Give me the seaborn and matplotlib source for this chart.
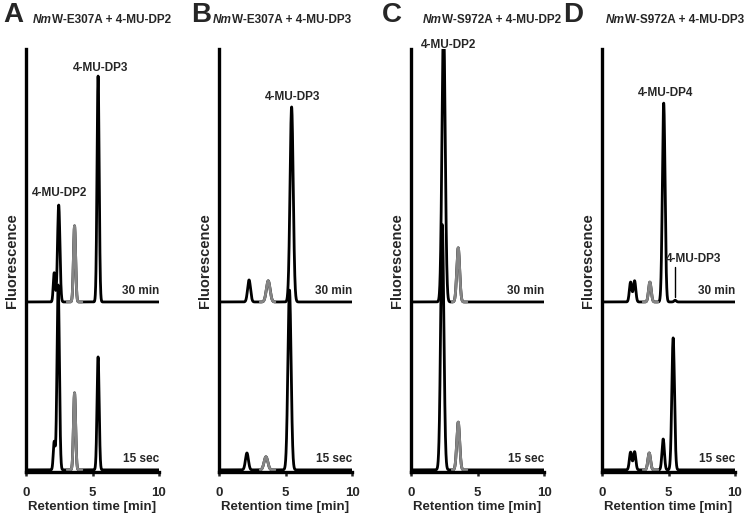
"""
HPLC traces of NmW mutants incubated with 4-MU-DPn acceptors (4 panels).
Each trace is rebuilt from its peak table (retention time, height, width).
"""
import matplotlib
matplotlib.use("Agg")
import matplotlib.pyplot as plt
import numpy as np
import pandas as pd
import seaborn as sns

# ---- data (retention time in min, height in a.u.) ----
PANEL_LETTERS = ["A", "B", "C", "D"]
PANEL_ENZYMES = ["W-E307A", "W-E307A", "W-S972A", "W-S972A"]
PANEL_ACCEPTORS = ["4-MU-DP2", "4-MU-DP3", "4-MU-DP2", "4-MU-DP3"]
TIMEPOINTS = ["15 sec", "30 min"]
TRACE_OFFSET = [0.5, 40.2]  # vertical offset of the 15 sec / 30 min trace

A_15SEC_RT = [2.12, 2.42, 3.65, 5.42]
A_15SEC_HEIGHT = [6.6, 43.7, 18.2, 26.7]
A_15SEC_WIDTH = [0.07, 0.09, 0.08, 0.08]
A_30MIN_RT = [2.12, 2.46, 3.65, 5.42]
A_30MIN_HEIGHT = [6.9, 22.9, 18.0, 53.4]
A_30MIN_WIDTH = [0.07, 0.09, 0.08, 0.08]

B_15SEC_RT = [2.10, 3.53, 5.30]
B_15SEC_HEIGHT = [4.0, 3.1, 42.5]
B_15SEC_WIDTH = [0.11, 0.14, 0.12]
B_30MIN_RT = [2.26, 3.70, 5.46]
B_30MIN_HEIGHT = [5.2, 5.0, 46.1]
B_30MIN_WIDTH = [0.11, 0.14, 0.12]

C_15SEC_RT = [2.35, 3.55]
C_15SEC_HEIGHT = [58.0, 11.3]
C_15SEC_WIDTH = [0.12, 0.11]
C_30MIN_RT = [2.45, 3.55]
C_30MIN_HEIGHT = [66.0, 12.8]
C_30MIN_WIDTH = [0.12, 0.11]

D_15SEC_RT = [2.15, 2.45, 3.55, 4.60, 5.35]
D_15SEC_HEIGHT = [4.2, 4.3, 4.0, 7.3, 31.2]
D_15SEC_WIDTH = [0.09, 0.09, 0.10, 0.09, 0.10]
D_30MIN_RT = [2.15, 2.45, 3.60, 4.64, 5.50]
D_30MIN_HEIGHT = [4.7, 5.0, 4.7, 47.0, 0.4]
D_30MIN_WIDTH = [0.09, 0.09, 0.10, 0.10, 0.08]

# peak labels, in data units of each panel
LABEL_TEXT = [["4-MU-DP2", "4-MU-DP3"], ["4-MU-DP3"], ["4-MU-DP2"],
              ["4-MU-DP4", "4-MU-DP3"]]
LABEL_X = [[2.55, 5.6], [5.5], [2.8], [4.8, 6.85]]
LABEL_Y = [[66.0, 95.5], [88.7], [101.0], [89.6, 50.4]]

PEAKS = {
    ("A", "15 sec"): (A_15SEC_RT, A_15SEC_HEIGHT, A_15SEC_WIDTH),
    ("A", "30 min"): (A_30MIN_RT, A_30MIN_HEIGHT, A_30MIN_WIDTH),
    ("B", "15 sec"): (B_15SEC_RT, B_15SEC_HEIGHT, B_15SEC_WIDTH),
    ("B", "30 min"): (B_30MIN_RT, B_30MIN_HEIGHT, B_30MIN_WIDTH),
    ("C", "15 sec"): (C_15SEC_RT, C_15SEC_HEIGHT, C_15SEC_WIDTH),
    ("C", "30 min"): (C_30MIN_RT, C_30MIN_HEIGHT, C_30MIN_WIDTH),
    ("D", "15 sec"): (D_15SEC_RT, D_15SEC_HEIGHT, D_15SEC_WIDTH),
    ("D", "30 min"): (D_30MIN_RT, D_30MIN_HEIGHT, D_30MIN_WIDTH),
}

GRAY_RANGE = (3.1, 4.2)  # part of each trace drawn in grey (internal standard)


def trace_frame(rt, height, width, offset):
    t = np.linspace(0, 10, 2001)
    y = np.full_like(t, offset)
    for r, h, w in zip(rt, height, width):
        y += h * np.exp(-0.5 * ((t - r) / w) ** 2)
    return pd.DataFrame({"time": t, "signal": y})


sns.set_style("white")
plt.rcParams["font.family"] = ["Liberation Sans", "DejaVu Sans"]
plt.rcParams["font.weight"] = "bold"

fig = plt.figure(figsize=(7.45, 5.13), dpi=100)
lefts_px = [26, 219, 411, 602]
letter_px = [3, 191, 382, 563]
title_px = [33, 213, 423, 606]

for i, letter in enumerate(PANEL_LETTERS):
    ax = fig.add_axes([lefts_px[i] / 745, 41 / 513, 133 / 745, 423 / 513])
    for tp, off in zip(TIMEPOINTS, TRACE_OFFSET):
        df = trace_frame(*PEAKS[(letter, tp)], off)
        sns.lineplot(data=df, x="time", y="signal", ax=ax, color="black",
                     lw=2.0, estimator=None, sort=False)
        grey = df[(df.time >= GRAY_RANGE[0]) & (df.time <= GRAY_RANGE[1])]
        sns.lineplot(data=grey, x="time", y="signal", ax=ax, color="#858585",
                     lw=2.0, estimator=None, sort=False)
        ax.text(10, off + 2.6, tp, ha="right", va="center", fontsize=8.5,
                fontweight="bold")

    for txt, lx, ly in zip(LABEL_TEXT[i], LABEL_X[i], LABEL_Y[i]):
        ax.text(lx, ly, txt, ha="center", va="center", fontsize=8.5,
                fontweight="bold", clip_on=False)
    if letter == "D":
        ax.plot([5.5, 5.5], [41.4, 48.5], color="black", lw=1.0)

    ax.set_xlim(0, 10)
    ax.set_ylim(0, 100)
    ax.set_xticks([0, 5, 10])
    ax.set_xticklabels(["0", "5", "10"], fontsize=9.5, fontweight="bold")
    ax.set_yticks([])
    ax.tick_params(axis="x", direction="out", length=3, width=1.8, pad=8,
                   bottom=True)
    for side in ["top", "right"]:
        ax.spines[side].set_visible(False)
    for side in ["left", "bottom"]:
        ax.spines[side].set_linewidth(2.4)
        ax.spines[side].set_color("black")
    ax.set_xlabel("Retention time [min]", fontsize=9.5, fontweight="bold",
                  labelpad=1)
    ax.set_ylabel("Fluorescence", fontsize=10.5, fontweight="bold", labelpad=5)

    fig.text(letter_px[i] / 745, 1 - 2 / 513, letter, fontsize=20,
             fontweight="bold", ha="left", va="top")
    nm = fig.text(title_px[i] / 745, 1 - 20 / 513, "Nm", fontsize=8.5,
                  fontweight="bold", style="italic", ha="left", va="center")
    ax.annotate(f"{PANEL_ENZYMES[i]} + {PANEL_ACCEPTORS[i]}", xy=(1, 0.5),
                xycoords=nm, ha="left", va="center", fontsize=8.5,
                fontweight="bold", annotation_clip=False)

fig.savefig("out.png", dpi=100)
